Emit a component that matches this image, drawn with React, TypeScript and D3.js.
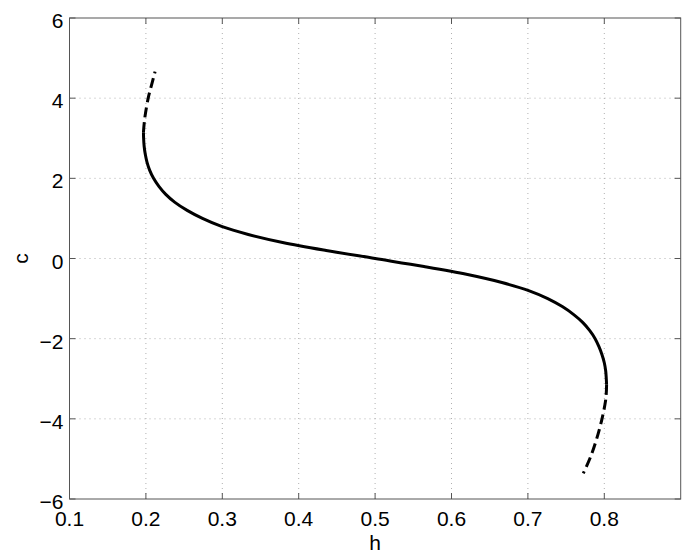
import React, { useRef, useEffect } from 'react';
import * as d3 from 'd3';

// solid branch (h, c)
const solidH = [0.1968, 0.1970, 0.1977, 0.1992, 0.2015, 0.2050, 0.2100, 0.2170, 0.2260, 0.2380, 0.2540, 0.2740,
  0.2990, 0.3340, 0.3790, 0.4360, 0.5000,
  0.5640, 0.6210, 0.6660, 0.7010, 0.7260, 0.7450, 0.7600, 0.7720, 0.7810, 0.7880, 0.7930, 0.7970, 0.8000, 0.8018,
  0.8026, 0.8030];
const solidC = [3.15, 3.00, 2.80, 2.60, 2.40, 2.20, 2.00, 1.80, 1.60, 1.40, 1.20, 1.00,
  0.80, 0.60, 0.40, 0.20, 0.00,
  -0.20, -0.40, -0.60, -0.80, -1.00, -1.20, -1.40, -1.60, -1.80, -2.00, -2.20, -2.40, -2.60, -2.80,
  -3.00, -3.15];

// dashed upper branch
const upperH = [0.1968, 0.1985, 0.2030, 0.2070, 0.2120];
const upperC = [3.15, 3.50, 4.00, 4.30, 4.66];

// dashed lower branch
const lowerH = [0.8030, 0.8020, 0.7970, 0.7900, 0.7820, 0.7725];
const lowerC = [-3.15, -3.50, -4.00, -4.50, -4.95, -5.36];

const xTicks = [0.1, 0.2, 0.3, 0.4, 0.5, 0.6, 0.7, 0.8];
const yTicks = [-6, -4, -2, 0, 2, 4, 6];

const App = () => {
  const svgRef = useRef<SVGSVGElement>(null);

  useEffect(() => {
    const width = 685;
    const height = 560;
    const margin = { top: 18, right: 4.3, bottom: 61, left: 69.5 };
    const font = 'Liberation Sans, Arial, Helvetica, sans-serif';

    document.body.style.margin = '0';

    const svg = d3.select(svgRef.current);
    svg.selectAll('*').remove();
    svg.attr('width', width).attr('height', height);

    const x = d3.scaleLinear().domain([0.1, 0.9]).range([margin.left, width - margin.right]);
    const y = d3.scaleLinear().domain([-6, 6]).range([height - margin.bottom, margin.top]);

    const [x0, x1] = x.range();
    const [y0, y1] = y.range();

    // grid
    const grid = svg.append('g').attr('stroke', '#b0b0b0').attr('stroke-width', 1).attr('stroke-dasharray', '1,4');
    grid.selectAll('.gx')
      .data(xTicks.filter(d => d > 0.1))
      .join('line')
      .attr('class', 'gx')
      .attr('x1', d => x(d)).attr('x2', d => x(d))
      .attr('y1', y0).attr('y2', y1);
    grid.selectAll('.gy')
      .data(yTicks.filter(d => d > -6 && d < 6))
      .join('line')
      .attr('class', 'gy')
      .attr('y1', d => y(d)).attr('y2', d => y(d))
      .attr('x1', x0).attr('x2', x1);

    // ticks (inward, all four sides)
    const tickLen = 6;
    const ticks = svg.append('g').attr('stroke', '#555').attr('stroke-width', 1);
    xTicks.forEach(t => {
      ticks.append('line').attr('x1', x(t)).attr('x2', x(t)).attr('y1', y0).attr('y2', y0 - tickLen);
      ticks.append('line').attr('x1', x(t)).attr('x2', x(t)).attr('y1', y1).attr('y2', y1 + tickLen);
    });
    yTicks.forEach(t => {
      ticks.append('line').attr('y1', y(t)).attr('y2', y(t)).attr('x1', x0).attr('x2', x0 + tickLen);
      ticks.append('line').attr('y1', y(t)).attr('y2', y(t)).attr('x1', x1).attr('x2', x1 - tickLen);
    });

    // box
    svg.append('rect')
      .attr('x', x0).attr('y', y1)
      .attr('width', x1 - x0).attr('height', y0 - y1)
      .attr('fill', 'none').attr('stroke', '#555').attr('stroke-width', 1);

    // tick labels
    svg.append('g')
      .selectAll('text')
      .data(xTicks)
      .join('text')
      .attr('x', d => x(d))
      .attr('y', y0 + 27)
      .attr('text-anchor', 'middle')
      .style('font-family', font)
      .style('font-size', '21px')
      .text(d => d3.format('.1f')(d));

    svg.append('g')
      .selectAll('text')
      .data(yTicks)
      .join('text')
      .attr('x', x0 - 6)
      .attr('y', d => y(d) + 10)
      .attr('text-anchor', 'end')
      .style('font-family', font)
      .style('font-size', '21px')
      .text(d => (d < 0 ? '\u2212' + Math.abs(d) : String(d)));

    // axis labels
    svg.append('text')
      .attr('x', (x0 + x1) / 2)
      .attr('y', 550)
      .attr('text-anchor', 'middle')
      .style('font-family', font)
      .style('font-size', '21px')
      .text('h');

    svg.append('text')
      .attr('transform', `translate(28, ${(y0 + y1) / 2}) rotate(-90)`)
      .attr('text-anchor', 'middle')
      .style('font-family', font)
      .style('font-size', '21px')
      .text('c');

    const line = d3.line<[number, number]>()
      .x(d => x(d[0]))
      .y(d => y(d[1]))
      .curve(d3.curveCatmullRom.alpha(0.5));

    const zip = (hs: number[], cs: number[]) => hs.map((h, i) => [h, cs[i]] as [number, number]);

    svg.append('path')
      .attr('d', line(zip(solidH, solidC)))
      .attr('fill', 'none')
      .attr('stroke', '#000')
      .attr('stroke-width', 3);

    [zip(upperH, upperC), zip(lowerH, lowerC)].forEach(pts => {
      svg.append('path')
        .attr('d', line(pts))
        .attr('fill', 'none')
        .attr('stroke', '#000')
        .attr('stroke-width', 3)
        .attr('stroke-dasharray', '10,5');
    });
  }, []);

  return <svg ref={svgRef} style={{ display: 'block' }}></svg>;
};

export default App;
